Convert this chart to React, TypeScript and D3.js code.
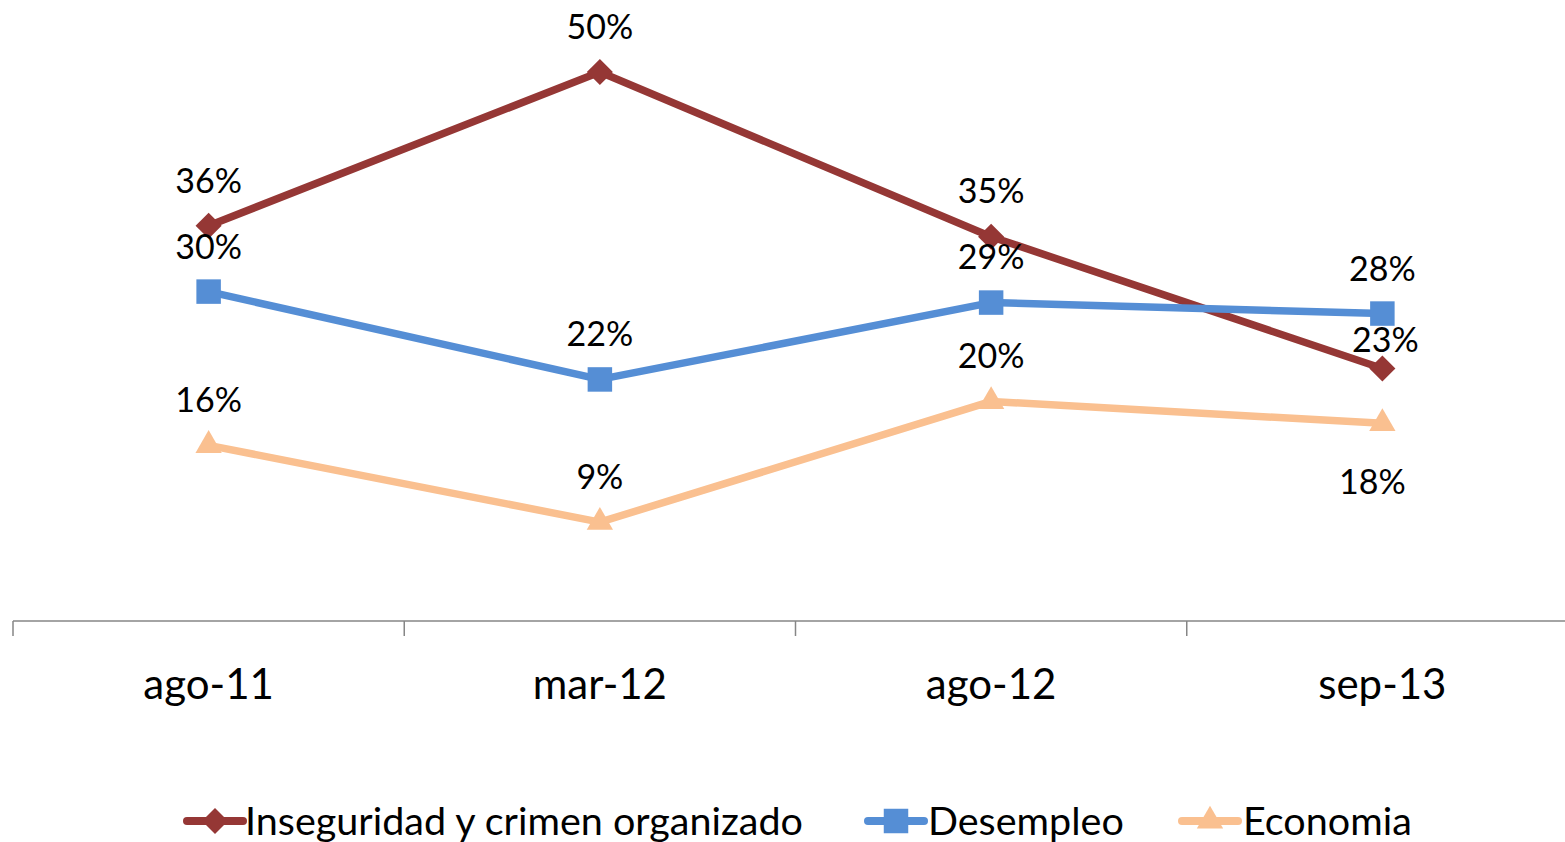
import React from "react";
import * as d3 from "d3";

const categories = ["ago-11", "mar-12", "ago-12", "sep-13"];
const inseguridad = [36, 50, 35, 23];
const desempleo = [30, 22, 29, 28];
const economia = [16, 9, 20, 18];
const seriesNames = ["Inseguridad y crimen organizado", "Desempleo", "Economia"];
const colors = ["#953735", "#558ED5", "#FAC090"];

// label nudges (dx, dy from the point); default is centred above
const labelShift = [
  [[0, -45], [0, -45], [0, -46], [3, -28]],
  [[0, -45], [0, -45], [0, -45], [0, -44]],
  [[0, -45], [0, -45], [0, -45], [-10, 59]],
];

const W = 1565, H = 842;
const FONT = "Lato, 'Noto Sans', sans-serif";

export default function App() {
  const x = d3.scaleBand<string>().domain(categories).range([13, 1578]);
  const y = d3.scaleLinear().domain([0, 50]).range([621, 72]);
  const cx = (c: string) => (x(c) ?? 0) + x.bandwidth() / 2;

  const all = [inseguridad, desempleo, economia];
  const line = d3.line<number>()
    .x((_, i) => cx(categories[i]))
    .y((d) => y(d));

  const symbols = [
    { path: d3.symbol(d3.symbolSquare, 340)(), rot: 45 },
    { path: d3.symbol(d3.symbolSquare, 600)(), rot: 0 },
    { path: d3.symbol(d3.symbolTriangle, 300)(), rot: 0 },
  ];

  const ticks = categories.map((c) => x(c) ?? 0).concat([1578]);

  const legend = [
    { x0: 187, tx: 245 },
    { x0: 868, tx: 928 },
    { x0: 1182, tx: 1243 },
  ];

  return (
    <svg width={W} height={H} style={{ position: "absolute", left: 0, top: 0, background: "#fff" }}>
      {/* axis */}
      <line x1={13} x2={1565} y1={y(0)} y2={y(0)} stroke="#868686" strokeWidth={1.5} />
      {ticks.map((t, i) => (
        <line key={i} x1={t} x2={t} y1={y(0)} y2={y(0) + 15} stroke="#868686" strokeWidth={1.5} />
      ))}
      {categories.map((c) => (
        <text key={c} x={cx(c)} y={684} dy="0.35em" textAnchor="middle" fontFamily={FONT} fontSize={42} fill="#000">
          {c}
        </text>
      ))}

      {/* series */}
      {all.map((vals, s) => (
        <g key={s}>
          <path d={line(vals) ?? ""} fill="none" stroke={colors[s]} strokeWidth={7.5} strokeLinejoin="round" />
          {vals.map((v, i) => (
            <path
              key={i}
              d={symbols[s].path ?? ""}
              transform={`translate(${cx(categories[i])},${y(v)}) rotate(${symbols[s].rot})`}
              fill={colors[s]}
            />
          ))}
        </g>
      ))}
      {all.map((vals, s) =>
        vals.map((v, i) => (
          <text
            key={`${s}-${i}`}
            x={cx(categories[i]) + labelShift[s][i][0]}
            y={y(v) + labelShift[s][i][1]}
            dy="0.35em"
            textAnchor="middle"
            fontFamily={FONT}
            fontSize={34}
            fill="#000"
          >
            {v}%
          </text>
        ))
      )}

      {/* legend */}
      {legend.map((l, s) => (
        <g key={s}>
          <line x1={l.x0} x2={l.x0 + 56} y1={821} y2={821} stroke={colors[s]} strokeWidth={8} strokeLinecap="round" />
          <path
            d={symbols[s].path ?? ""}
            transform={`translate(${l.x0 + 28},821) rotate(${symbols[s].rot})`}
            fill={colors[s]}
          />
          <text x={l.tx} y={821} dy="0.35em" fontFamily={FONT} fontSize={39.5} fill="#000">
            {seriesNames[s]}
          </text>
        </g>
      ))}
    </svg>
  );
}
